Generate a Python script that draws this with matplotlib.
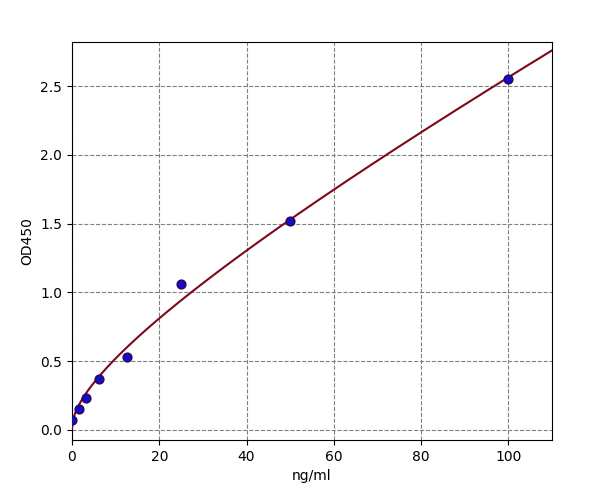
import matplotlib
matplotlib.use("Agg")
import matplotlib.pyplot as plt
import numpy as np

conc = [0, 1.56, 3.125, 6.25, 12.5, 25, 50, 100]
od450 = [0.07, 0.15, 0.23, 0.37, 0.53, 1.06, 1.52, 2.55]

# smooth standard curve: least-squares fit on [1, x, sqrt(x)]
cx = np.asarray(conc, dtype=float)
basis = np.column_stack([np.ones_like(cx), cx, np.sqrt(cx)])
coef, *_ = np.linalg.lstsq(basis, np.asarray(od450), rcond=None)
xs = np.linspace(0, 110, 300)
ys = coef[0] + coef[1] * xs + coef[2] * np.sqrt(xs)

fig = plt.figure(figsize=(6, 5), dpi=100)
ax = fig.add_axes([0.12, 0.12, 0.80, 0.796])
ax.plot(xs, ys, color="#7a0a1a", linewidth=1.5, zorder=3)
ax.scatter(conc, od450, s=40, color="#1010c0", edgecolor="#300060", zorder=4)

ax.set_xlim(0, 110)
ax.set_ylim(-0.073, 2.82)
ax.set_xticks([0, 20, 40, 60, 80, 100])
ax.set_yticks([0.0, 0.5, 1.0, 1.5, 2.0, 2.5])
ax.grid(True, linestyle="--", color="gray", linewidth=0.8)
ax.set_xlabel("ng/ml", fontsize=10)
ax.set_ylabel("OD450", fontsize=10)
ax.tick_params(labelsize=10)

fig.savefig("out.png", dpi=100)
